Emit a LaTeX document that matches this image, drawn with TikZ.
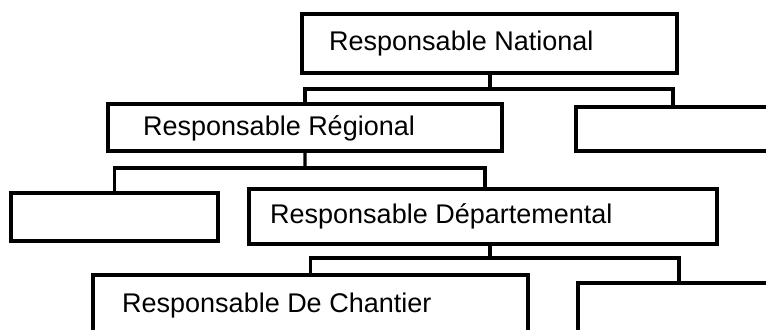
\documentclass[tikz,border=0pt]{standalone}
\usepackage{fontspec}
\setmainfont{Liberation Sans}
\usetikzlibrary{calc}
\begin{document}
\begin{tikzpicture}[x=1bp,y=-1bp,
  box/.style={draw=black, line width=3.6bp, fill=white, rectangle, inner sep=0pt, outer sep=0pt, anchor=north west},
  lbl/.style={inner sep=0pt, anchor=base west, font=\fontsize{27bp}{30bp}\selectfont},
  conn/.style={draw=black, line width=3.4bp, line cap=rect}]
\clip (0,0) rectangle (766,329);
\fill[white] (0,0) rectangle (766,329);
% boxes
\node[box, minimum width=375bp, minimum height=59bp] (N) at (302,14) {};
\node[box, minimum width=394bp, minimum height=47bp] (R) at (108,104) {};
\node[box, minimum width=194bp, minimum height=44bp] (R2) at (576,107) {};
\node[box, minimum width=207bp, minimum height=48bp] (L) at (11,193) {};
\node[box, minimum width=468bp, minimum height=55bp] (D) at (249,189) {};
\node[box, minimum width=435bp, minimum height=70bp] (C) at (93,275) {};
\node[box, minimum width=202bp, minimum height=60bp] (R3) at (578,283) {};
% texts
\node[lbl] (tN) at (329,50) {Responsable National};
\node[lbl] (tR) at (143,135) {Responsable Régional};
\node[lbl] (tD) at (270,223) {Responsable Départemental};
\node[lbl] (tC) at (122,312) {Responsable De Chantier};
% connectors
\coordinate (j1) at (490,89);
\coordinate (j2) at (305,168);
\coordinate (j3) at (490,258);
\draw[conn] (N.south -| j1) -- (j1);
\draw[conn] (R.north) |- (j1) -| (R2.north);
\draw[conn] (R.south) -- (j2);
\draw[conn] (L.north) |- (j2) -| ($(D.north)+(2,0)$);
\draw[conn] (D.south -| j3) -- (j3);
\draw[conn] (C.north) |- (j3) -| (R3.north);
\end{tikzpicture}
\end{document}
